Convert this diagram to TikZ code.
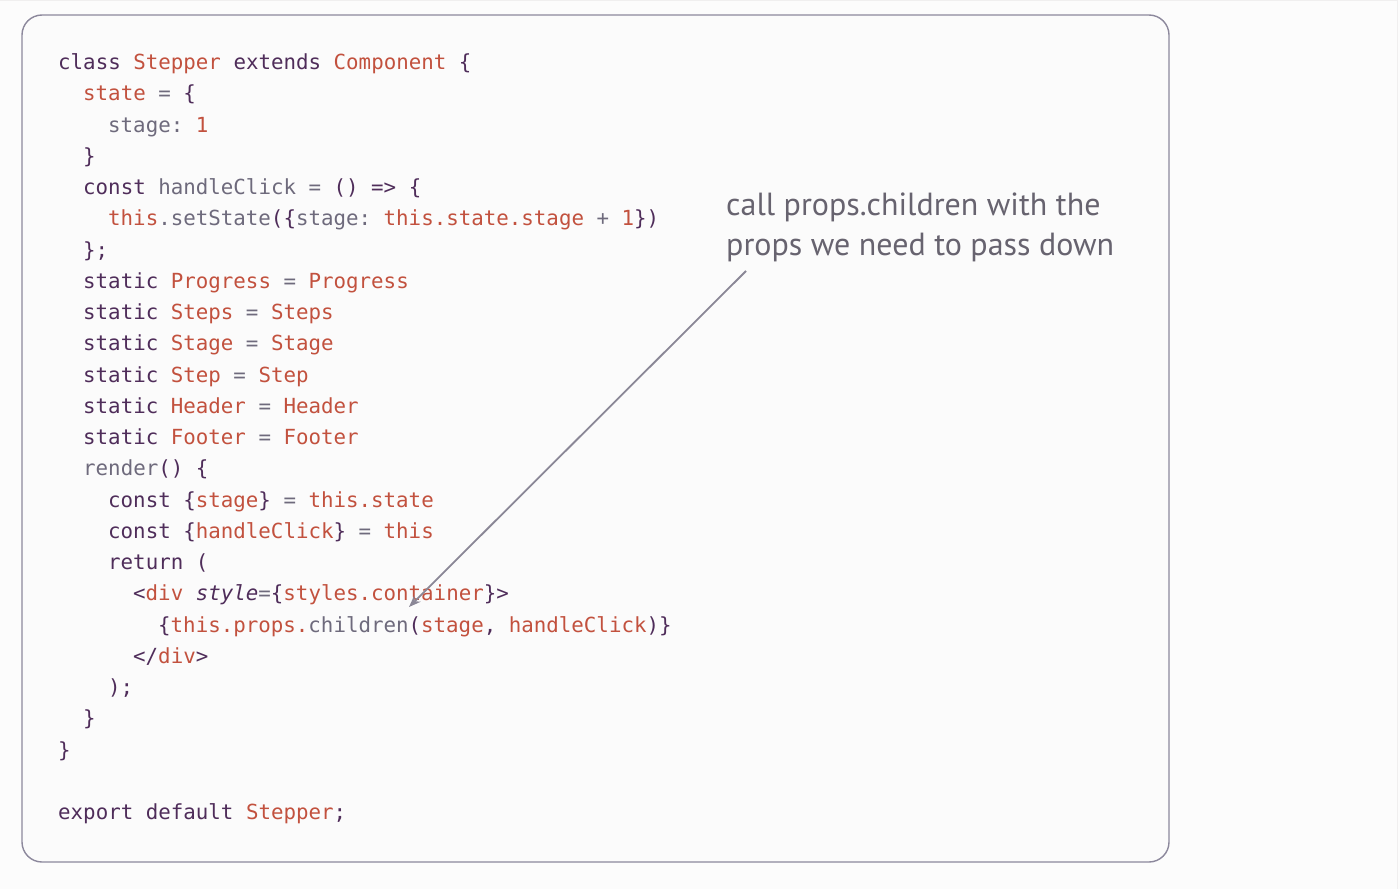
\documentclass[tikz,border=0pt]{standalone}
\usepackage{fontspec}
\usetikzlibrary{arrows.meta}
\newfontfamily\codefont{DejaVu Sans Mono}
\newfontfamily\notefont{PT Sans}
\definecolor{kwcol}{HTML}{4F2D5A}
\definecolor{idcol}{HTML}{6E6A7C}
\definecolor{nmcol}{HTML}{C2513E}
\definecolor{framecol}{HTML}{8C889C}
\definecolor{notecol}{HTML}{67636F}
\definecolor{arrowcol}{HTML}{8A8796}
\newcommand{\kw}[1]{\textcolor{kwcol}{#1}}
\newcommand{\id}[1]{\textcolor{idcol}{#1}}
\newcommand{\nm}[1]{\textcolor{nmcol}{#1}}
\frenchspacing
\tikzset{
  codeline/.style={anchor=base west, inner sep=0pt, font=\codefont\fontsize{20.8}{31}\selectfont},
  noteline/.style={anchor=base west, inner sep=0pt, text=notecol, font=\notefont\fontsize{32}{40}\selectfont},
  arrowline/.style={draw=arrowcol, line width=1.8pt, -{Stealth[length=12pt,width=9pt]}}
}
\begin{document}
\begin{tikzpicture}[x=1pt,y=-1pt]
    \useasboundingbox (0,0) rectangle (1400,889);
    \fill[white!98!gray] (0,0) rectangle (1400,889);
    % Bordes tenues
    \draw[line width=1pt, red!4!gray!12] (0,0.5) -- (1397,0.5) -- (1397,889);
    % Marco del codigo
    \draw[framecol, fill=white!97!gray, line width=1.4pt, rounded corners=20pt] (22,15) rectangle (1169,862);
    % Codigo
    \node[codeline] (l0)  at (58,69.5)    {\kw{class} \nm{Stepper} \kw{extends} \nm{Component} \kw{\{}};
    \node[codeline] (l1)  at (83,100.75)  {\nm{state} \id{=} \kw{\{}};
    \node[codeline] (l2)  at (108,132)    {\id{stage:} \nm{1}};
    \node[codeline] (l3)  at (83,163.25)  {\kw{\}}};
    \node[codeline] (l4)  at (83,194.5)   {\kw{const} \id{handleClick} \id{=} \kw{() => \{}};
    \node[codeline] (l5)  at (108,225.75) {\nm{this}\id{.setState}\kw{(\{}\id{stage:} \nm{this.state.stage} \id{+} \nm{1}\kw{\})}};
    \node[codeline] (l6)  at (83,257)     {\kw{\};}};
    \node[codeline] (l7)  at (83,288.25)  {\kw{static} \nm{Progress} \id{=} \nm{Progress}};
    \node[codeline] (l8)  at (83,319.5)   {\kw{static} \nm{Steps} \id{=} \nm{Steps}};
    \node[codeline] (l9)  at (83,350.75)  {\kw{static} \nm{Stage} \id{=} \nm{Stage}};
    \node[codeline] (l10) at (83,382)     {\kw{static} \nm{Step} \id{=} \nm{Step}};
    \node[codeline] (l11) at (83,413.25)  {\kw{static} \nm{Header} \id{=} \nm{Header}};
    \node[codeline] (l12) at (83,444.5)   {\kw{static} \nm{Footer} \id{=} \nm{Footer}};
    \node[codeline] (l13) at (83,475.75)  {\id{render}\kw{() \{}};
    \node[codeline] (l14) at (108,507)    {\kw{const \{}\nm{stage}\kw{\}} \id{=} \nm{this.state}};
    \node[codeline] (l15) at (108,538.25) {\kw{const \{}\nm{handleClick}\kw{\}} \id{=} \nm{this}};
    \node[codeline] (l16) at (108,569.5)  {\kw{return (}};
    \node[codeline] (l17) at (133,600.75) {\kw{<}\nm{div} \kw{\textit{style}}\id{=}\kw{\{}\nm{styles.container}\kw{\}>}};
    \node[codeline] (l18) at (158,632)    {\kw{\{}\nm{this.props.}\id{children}\kw{(}\nm{stage}\kw{,} \nm{handleClick}\kw{)\}}};
    \node[codeline] (l19) at (133,663.25) {\kw{</}\nm{div}\kw{>}};
    \node[codeline] (l20) at (108,694.5)  {\kw{);}};
    \node[codeline] (l21) at (83,725.75)  {\kw{\}}};
    \node[codeline] (l22) at (58,757)     {\kw{\}}};
    \node[codeline] (l24) at (58,819.5)   {\kw{export default} \nm{Stepper}\kw{;}};
    % Nota
    \node[noteline] (note1) at (726,215) {call props.children with the};
    \node[noteline] (note2) at (726,255) {props we need to pass down};
    % Flecha
    \coordinate (tail) at (746,271);
    \coordinate (tip) at (409,607);
    \draw[arrowline] (tail) -- (tip);
\end{tikzpicture}
\end{document}
